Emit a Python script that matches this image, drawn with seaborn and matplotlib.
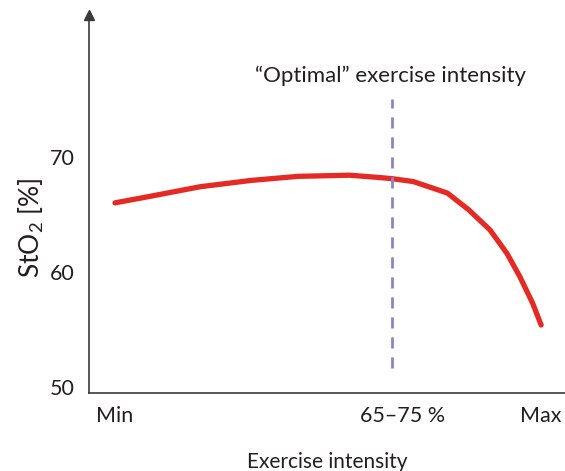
import matplotlib
matplotlib.use("Agg")
import matplotlib.pyplot as plt
import seaborn as sns
import pandas as pd

# curve (x: 0 = Min, 100 = Max)
intensity = [0, 8, 20, 32, 43, 55, 62, 65, 70, 78, 83, 88, 92, 95, 98, 100]
sto2 = [66.0, 66.55, 67.4, 67.95, 68.3, 68.4, 68.2, 68.1, 67.85, 66.85, 65.4,
        63.65, 61.6, 59.6, 57.3, 55.4]

y_ticks = [50, 60, 70]
x_ticks = [0, 67.5, 100]
x_labels = ["Min", "65\u201375 %", "Max"]
optimal_x = 65
optimal_span = [51.7, 75]

df = pd.DataFrame({"intensity": intensity, "sto2": sto2})

sns.set_style("white")
plt.rcParams["font.family"] = ["Lato", "DejaVu Sans"]
plt.rcParams["mathtext.fontset"] = "custom"
plt.rcParams["mathtext.rm"] = "Lato"

text_col = "#231f20"
fig = plt.figure(figsize=(5.65, 4.71), dpi=100)
ax = fig.add_axes([0.1575, 0.1656, 0.8425, 0.8025])

sns.lineplot(data=df, x="intensity", y="sto2", color="#e52a24", linewidth=3.8, ax=ax)
ax.plot([optimal_x, optimal_x], optimal_span, color="#8a85c9", linewidth=2,
        dashes=(4, 3.2))

ax.text(64.6, 77, "\u201cOptimal\u201d exercise intensity", ha="center", va="center",
        fontsize=16, color=text_col)

ax.set_xlim(-6.1, 105.6)
ax.set_ylim(49.5, 82.3)
ax.set_xticks(x_ticks)
ax.set_xticklabels(x_labels)
ax.set_yticks(y_ticks)
ax.tick_params(axis="both", length=0, labelsize=15.5, labelcolor=text_col)
ax.tick_params(axis="x", pad=9)
ax.tick_params(axis="y", pad=10)
ax.set_xlabel("Exercise intensity", fontsize=15, color=text_col, labelpad=19)
ax.set_ylabel(r"StO$_\mathregular{2}$ [%]", fontsize=19, color=text_col)
ax.yaxis.set_label_coords(-0.09, 0.437)

for s in ["top", "right"]:
    ax.spines[s].set_visible(False)
for s in ["left", "bottom"]:
    ax.spines[s].set_color("#3a3a3a")
    ax.spines[s].set_linewidth(1.2)

# arrow head on y axis
ax.plot([0], [1], marker="^", color="#3a3a3a", markersize=7,
        transform=ax.transAxes, clip_on=False)

fig.savefig("out.png", dpi=100)
